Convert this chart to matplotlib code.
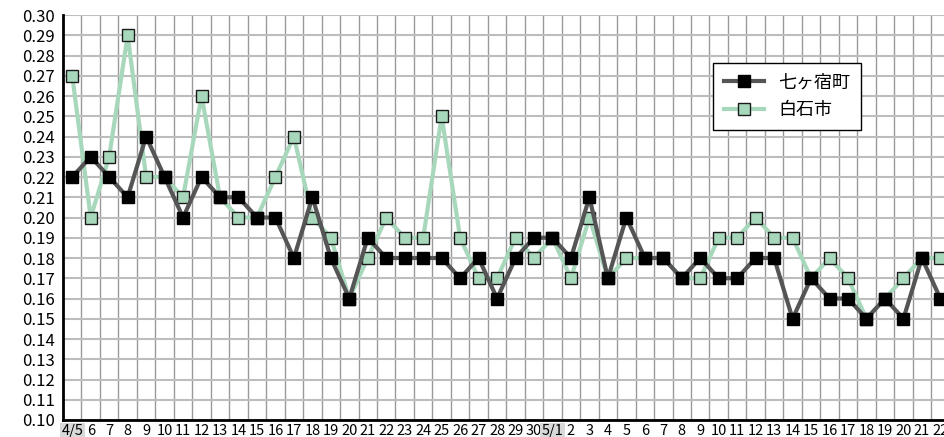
import numpy as np
import matplotlib.pyplot as plt

plt.rcParams['font.family'] = ['Noto Sans CJK JP', 'DejaVu Sans']

# dates 4/5 .. 5/22
dates = ["4/5"] + [str(d) for d in range(6, 31)] + ["5/1"] + [str(d) for d in range(2, 23)]

shichikashuku = [0.22, 0.23, 0.22, 0.21, 0.24, 0.22, 0.20, 0.22, 0.21, 0.21, 0.20, 0.20, 0.18,
                 0.21, 0.18, 0.16, 0.19, 0.18, 0.18, 0.18, 0.18, 0.17, 0.18, 0.16, 0.18, 0.19,
                 0.19, 0.18, 0.21, 0.17, 0.20, 0.18, 0.18, 0.17, 0.18, 0.17, 0.17, 0.18, 0.18,
                 0.15, 0.17, 0.16, 0.16, 0.15, 0.16, 0.15, 0.18, 0.16]
shiroishi = [0.27, 0.20, 0.23, 0.29, 0.22, 0.22, 0.21, 0.26, 0.21, 0.20, 0.20, 0.22, 0.24,
             0.20, 0.19, 0.16, 0.18, 0.20, 0.19, 0.19, 0.25, 0.19, 0.17, 0.17, 0.19, 0.18,
             0.19, 0.17, 0.20, 0.17, 0.18, 0.18, 0.18, 0.17, 0.17, 0.19, 0.19, 0.20, 0.19,
             0.19, 0.17, 0.18, 0.17, 0.15, 0.16, 0.17, 0.18, 0.18]

x = np.arange(len(dates))

fig = plt.figure(figsize=(9.44, 4.37), dpi=100)
ax = fig.add_axes([63 / 944, 17 / 437, 886.6 / 944, 405 / 437])

ax.plot(x, shiroishi, color="#a8d8bc", lw=3, marker="s", markersize=8.8,
        markerfacecolor="#a8d8bc", markeredgecolor="#1a1a1a", markeredgewidth=1.0,
        label="白石市", zorder=3)
ax.plot(x, shichikashuku, color="#555555", lw=3, marker="s", markersize=9.3,
        markerfacecolor="black", markeredgecolor="black",
        label="七ヶ宿町", zorder=4)

ax.set_xlim(-0.5, len(dates) - 0.5)
ax.set_ylim(0.10, 0.30)
ax.set_yticks(np.arange(0.10, 0.301, 0.01))
ax.set_yticklabels([f"{v:.2f}" for v in np.arange(0.10, 0.301, 0.01)], fontsize=12)
ax.set_xticks(x)
ax.set_xticklabels(dates, fontsize=10.5)
ax.set_xticks(np.arange(0.5, len(dates) - 0.5, 1), minor=True)
ax.tick_params(axis="both", which="both", length=0)
ax.tick_params(axis="x", pad=3)
ax.tick_params(axis="y", pad=6)

for lbl in ax.get_xticklabels():
    if "/" in lbl.get_text():
        lbl.set_bbox(dict(facecolor="#d9d9d9", edgecolor="none", pad=1))

ax.grid(axis="y", which="major", color="#bdbdbd", lw=1.5)
ax.grid(axis="x", which="minor", color="#999999", lw=1.0)
ax.set_axisbelow(True)

for s in ["top", "right"]:
    ax.spines[s].set_visible(False)
ax.spines["left"].set_linewidth(2)
ax.spines["bottom"].set_linewidth(2)

# legend: black first
handles, labels = ax.get_legend_handles_labels()
leg = ax.legend(handles[::-1], labels[::-1], loc="upper left",
                bbox_to_anchor=((713 - 63) / 886.6, (437 - 17 - 65) / 405 + 0.005),
                borderaxespad=0, fontsize=13, frameon=True, fancybox=False,
                handlelength=2.2, borderpad=0.6, labelspacing=0.5, handletextpad=0.8)
leg.get_frame().set_edgecolor("black")
leg.get_frame().set_linewidth(1.0)
leg.get_frame().set_alpha(1)

fig.savefig("out.png", dpi=100)
